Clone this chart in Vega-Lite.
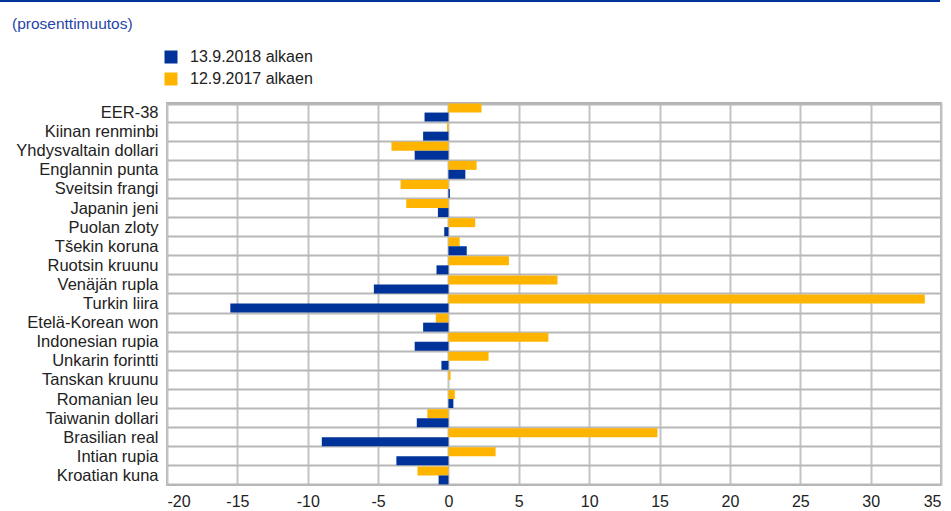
{
  "$schema": "https://vega.github.io/schema/vega-lite/v6.json",
  "width": 774,
  "height": 382,
  "autosize": {"type": "none"},
  "padding": {"left": 167, "top": 103, "right": 10, "bottom": 26},
  "background": "white",
  "title": {
    "text": "(prosenttimuutos)",
    "anchor": "start",
    "frame": "group",
    "dx": -155,
    "offset": 0,
    "dy": 32,
    "font": "Liberation Sans",
    "fontSize": 15.5,
    "fontWeight": "normal",
    "color": "#1f45a8"
  },
  "config": {
    "font": "Liberation Sans",
    "view": {"stroke": "#b3b3b3", "strokeWidth": 2}
  },
  "data": {
    "values": [
      {"valuutta": "EER-38", "jakso": "12.9.2017 alkaen", "muutos": 2.35},
      {"valuutta": "EER-38", "jakso": "13.9.2018 alkaen", "muutos": -1.7},
      {"valuutta": "Kiinan renminbi", "jakso": "12.9.2017 alkaen", "muutos": -0.1},
      {"valuutta": "Kiinan renminbi", "jakso": "13.9.2018 alkaen", "muutos": -1.8},
      {"valuutta": "Yhdysvaltain dollari", "jakso": "12.9.2017 alkaen", "muutos": -4.05},
      {"valuutta": "Yhdysvaltain dollari", "jakso": "13.9.2018 alkaen", "muutos": -2.4},
      {"valuutta": "Englannin punta", "jakso": "12.9.2017 alkaen", "muutos": 2.0},
      {"valuutta": "Englannin punta", "jakso": "13.9.2018 alkaen", "muutos": 1.2},
      {"valuutta": "Sveitsin frangi", "jakso": "12.9.2017 alkaen", "muutos": -3.4},
      {"valuutta": "Sveitsin frangi", "jakso": "13.9.2018 alkaen", "muutos": 0.1},
      {"valuutta": "Japanin jeni", "jakso": "12.9.2017 alkaen", "muutos": -3.0},
      {"valuutta": "Japanin jeni", "jakso": "13.9.2018 alkaen", "muutos": -0.75},
      {"valuutta": "Puolan zloty", "jakso": "12.9.2017 alkaen", "muutos": 1.9},
      {"valuutta": "Puolan zloty", "jakso": "13.9.2018 alkaen", "muutos": -0.3},
      {"valuutta": "Tšekin koruna", "jakso": "12.9.2017 alkaen", "muutos": 0.8},
      {"valuutta": "Tšekin koruna", "jakso": "13.9.2018 alkaen", "muutos": 1.3},
      {"valuutta": "Ruotsin kruunu", "jakso": "12.9.2017 alkaen", "muutos": 4.3},
      {"valuutta": "Ruotsin kruunu", "jakso": "13.9.2018 alkaen", "muutos": -0.85},
      {"valuutta": "Venäjän rupla", "jakso": "12.9.2017 alkaen", "muutos": 7.75},
      {"valuutta": "Venäjän rupla", "jakso": "13.9.2018 alkaen", "muutos": -5.3},
      {"valuutta": "Turkin liira", "jakso": "12.9.2017 alkaen", "muutos": 33.85},
      {"valuutta": "Turkin liira", "jakso": "13.9.2018 alkaen", "muutos": -15.5},
      {"valuutta": "Etelä-Korean won", "jakso": "12.9.2017 alkaen", "muutos": -0.9},
      {"valuutta": "Etelä-Korean won", "jakso": "13.9.2018 alkaen", "muutos": -1.8},
      {"valuutta": "Indonesian rupia", "jakso": "12.9.2017 alkaen", "muutos": 7.1},
      {"valuutta": "Indonesian rupia", "jakso": "13.9.2018 alkaen", "muutos": -2.4},
      {"valuutta": "Unkarin forintti", "jakso": "12.9.2017 alkaen", "muutos": 2.85},
      {"valuutta": "Unkarin forintti", "jakso": "13.9.2018 alkaen", "muutos": -0.5},
      {"valuutta": "Tanskan kruunu", "jakso": "12.9.2017 alkaen", "muutos": 0.15},
      {"valuutta": "Tanskan kruunu", "jakso": "13.9.2018 alkaen", "muutos": 0.0},
      {"valuutta": "Romanian leu", "jakso": "12.9.2017 alkaen", "muutos": 0.45},
      {"valuutta": "Romanian leu", "jakso": "13.9.2018 alkaen", "muutos": 0.35},
      {"valuutta": "Taiwanin dollari", "jakso": "12.9.2017 alkaen", "muutos": -1.5},
      {"valuutta": "Taiwanin dollari", "jakso": "13.9.2018 alkaen", "muutos": -2.25},
      {"valuutta": "Brasilian real", "jakso": "12.9.2017 alkaen", "muutos": 14.85},
      {"valuutta": "Brasilian real", "jakso": "13.9.2018 alkaen", "muutos": -9.0},
      {"valuutta": "Intian rupia", "jakso": "12.9.2017 alkaen", "muutos": 3.35},
      {"valuutta": "Intian rupia", "jakso": "13.9.2018 alkaen", "muutos": -3.7},
      {"valuutta": "Kroatian kuna", "jakso": "12.9.2017 alkaen", "muutos": -2.2},
      {"valuutta": "Kroatian kuna", "jakso": "13.9.2018 alkaen", "muutos": -0.7}
    ]
  },
  "layer": [
    {
      "mark": {"type": "rule", "color": "#003399", "strokeWidth": 2},
      "encoding": {
        "x": {"value": -167},
        "x2": {"value": 773},
        "y": {"value": -102}
      }
    },
    {
      "mark": {"type": "bar", "stroke": null},
      "encoding": {
        "y": {
          "field": "valuutta",
          "type": "nominal",
          "sort": null,
          "scale": {"paddingInner": 0.06, "paddingOuter": 0.03},
          "axis": {
            "title": null,
            "grid": true,
            "tickBand": "extent",
            "gridColor": "#b8b8b8",
            "gridWidth": 2,
            "ticks": false,
            "domain": false,
            "labelFontSize": 16.5,
            "labelColor": "#222222",
            "labelPadding": 9,
            "labelLimit": 300
          }
        },
        "yOffset": {
          "field": "jakso",
          "type": "nominal",
          "sort": ["12.9.2017 alkaen", "13.9.2018 alkaen"],
          "scale": {"paddingInner": 0, "paddingOuter": 0}
        },
        "x": {
          "field": "muutos",
          "type": "quantitative",
          "scale": {"domain": [-20, 35], "nice": false, "zero": false},
          "axis": {
            "title": null,
            "values": [-20, -15, -10, -5, 0, 5, 10, 15, 20, 25, 30, 35],
            "labelExpr": "replace(datum.label, '\u2212', '-')",
            "grid": true,
            "gridColor": "#c4c4c4",
            "gridWidth": 2,
            "ticks": false,
            "domain": false,
            "labelFontSize": 16,
            "labelColor": "#222222",
            "labelPadding": 8
          }
        },
        "color": {
          "field": "jakso",
          "type": "nominal",
          "scale": {
            "domain": ["13.9.2018 alkaen", "12.9.2017 alkaen"],
            "range": ["#003399", "#ffb400"]
          },
          "legend": {
            "title": null,
            "orient": "none",
            "legendX": -4,
            "legendY": -54,
            "symbolType": "square",
            "symbolSize": 169,
            "symbolStrokeWidth": 0,
            "labelFontSize": 16,
            "labelColor": "#222222",
            "labelOffset": 11,
            "rowPadding": 6
          }
        }
      }
    }
  ]
}
